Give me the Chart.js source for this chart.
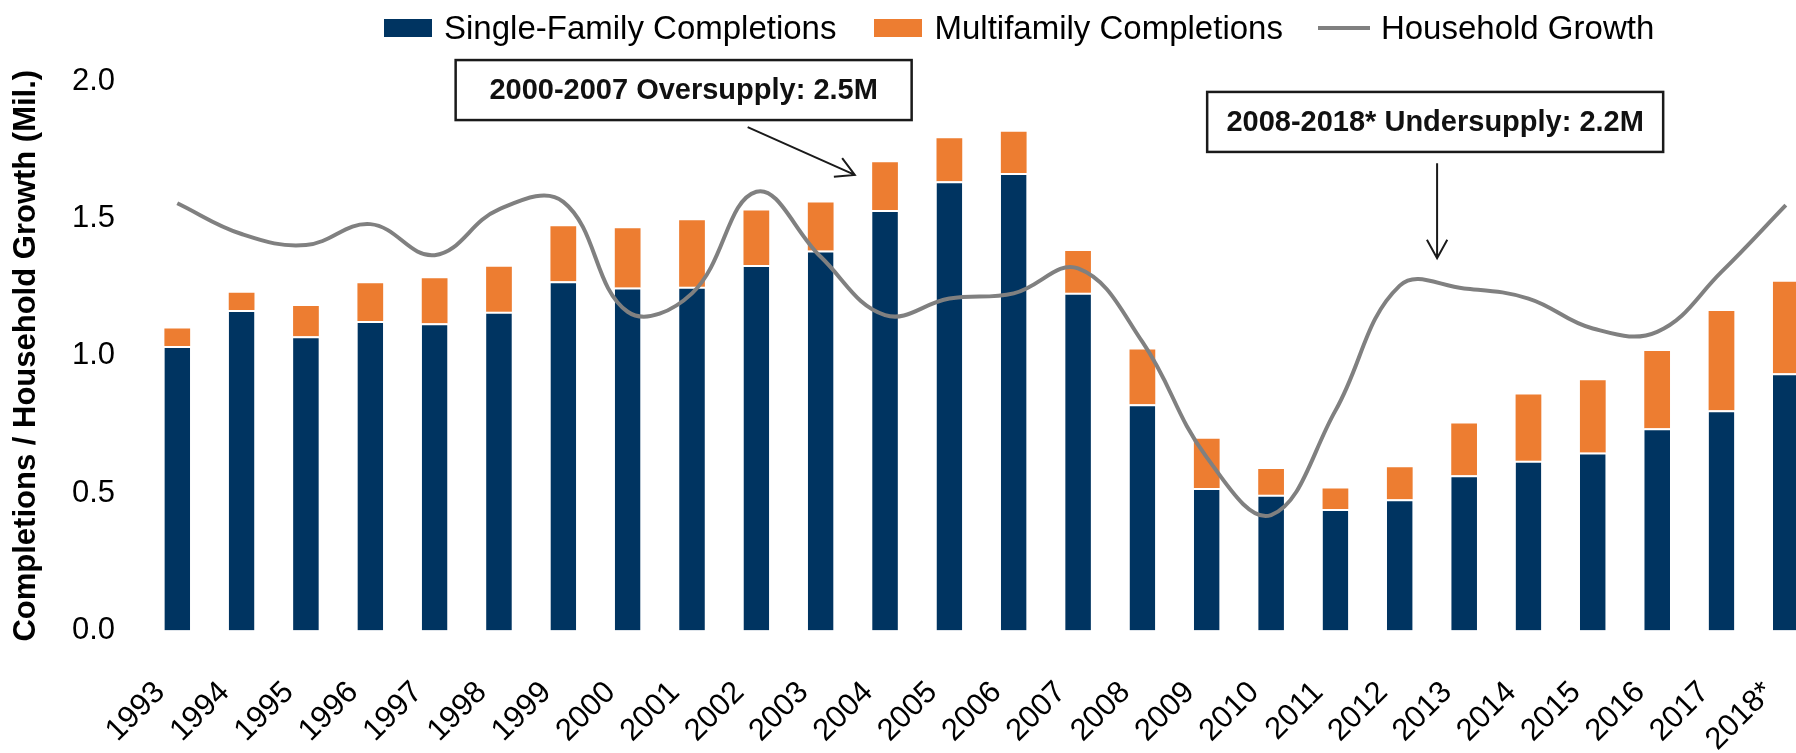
<!DOCTYPE html>
<html>
<head>
<meta charset="utf-8">
<title>Completions vs Household Growth</title>
<script src="https://cdn.jsdelivr.net/npm/chart.js@4.4.1/dist/chart.umd.min.js"></script>
<style>
  html, body { margin: 0; padding: 0; background: #fff; overflow: hidden; }
  #wrap { position: relative; width: 1796px; height: 753px; overflow: hidden; }
  #housingChart { position: absolute; left: 0; top: 0; }
  #legend {
    position: absolute; top: 9px; left: 384px;
    display: flex; align-items: center; white-space: nowrap;
    font: 33px "Liberation Sans", Arial, sans-serif; line-height: 37px; color: #000;
  }
  .legend-item { display: flex; align-items: center; }
  .legend-box { width: 48px; height: 18px; margin-right: 12px; }
  .legend-line { width: 52px; height: 4px; margin-right: 11px; }
</style>
</head>
<body>
<div id="wrap">
  <canvas id="housingChart" width="1818" height="802"></canvas>
  <div id="legend"></div>
</div>
<script>
// ---------------------
// DATA (millions)
// ---------------------
const years = [
  "1993", "1994", "1995", "1996", "1997", "1998", "1999", "2000", "2001",
  "2002", "2003", "2004", "2005", "2006", "2007", "2008", "2009", "2010",
  "2011", "2012", "2013", "2014", "2015", "2016", "2017", "2018*",
];
const singleFamily = [
  1.035, 1.166, 1.071, 1.126, 1.118, 1.160, 1.271, 1.248, 1.251,
  1.330, 1.383, 1.530, 1.635, 1.665, 1.229, 0.823, 0.518, 0.494,
  0.442, 0.477, 0.565, 0.618, 0.648, 0.736, 0.801, 0.936,
];
const multiFamily = [
  0.064, 0.063, 0.110, 0.138, 0.164, 0.164, 0.200, 0.216, 0.242,
  0.199, 0.175, 0.174, 0.157, 0.150, 0.152, 0.200, 0.180, 0.094,
  0.075, 0.117, 0.188, 0.241, 0.263, 0.281, 0.362, 0.333,
];
const householdGrowth = [
  1.555, 1.443, 1.403, 1.479, 1.366, 1.533, 1.560, 1.160, 1.227,
  1.597, 1.360, 1.148, 1.208, 1.227, 1.318, 1.050, 0.630, 0.420,
  0.800, 1.255, 1.245, 1.208, 1.099, 1.087, 1.305, 1.548,
];
const yTicks = [0, 0.5, 1.0, 1.5, 2.0];

const COLORS = {
  single: "#003461",
  multi: "#ED7D31",
  growth: "#808080",
};
const FONT = '"Liberation Sans", Arial, sans-serif';

// callout boxes, placed in data units (x = category index, y = value)
const callouts = [
  {
    text: "2000-2007 Oversupply: 2.5M",
    x: 7.87, y: 1.967,
    arrowFrom: [8.865, 1.832], arrowTo: [10.53, 1.658],
  },
  {
    text: "2008-2018* Undersupply: 2.2M",
    x: 19.55, y: 1.851,
    arrowFrom: [19.58, 1.701], arrowTo: [19.58, 1.355],
  },
];

// ---------------------
// LEGEND (html)
// ---------------------
function renderLegend() {
  const el = document.getElementById("legend");
  const items = [
    { label: "Single-Family Completions", cls: "legend-box", color: COLORS.single, gap: 38 },
    { label: "Multifamily Completions", cls: "legend-box", color: COLORS.multi, gap: 35 },
    { label: "Household Growth", cls: "legend-line", color: COLORS.growth, gap: 0 },
  ];
  items.forEach((it) => {
    const item = document.createElement("div");
    item.className = "legend-item";
    item.style.marginRight = it.gap + "px";
    const mark = document.createElement("span");
    mark.className = it.cls;
    mark.style.background = it.color;
    const txt = document.createElement("span");
    txt.textContent = it.label;
    item.appendChild(mark);
    item.appendChild(txt);
    el.appendChild(item);
  });
}

// ---------------------
// CALLOUT PLUGIN: boxed labels + arrows
// ---------------------
function drawArrow(ctx, x1, y1, x2, y2) {
  const ang = Math.atan2(y2 - y1, x2 - x1);
  const len = 21;
  const spread = (29 * Math.PI) / 180;
  ctx.beginPath();
  ctx.moveTo(x1, y1);
  ctx.lineTo(x2, y2);
  ctx.moveTo(x2 - len * Math.cos(ang - spread), y2 - len * Math.sin(ang - spread));
  ctx.lineTo(x2, y2);
  ctx.lineTo(x2 - len * Math.cos(ang + spread), y2 - len * Math.sin(ang + spread));
  ctx.stroke();
}

const calloutPlugin = {
  id: "callouts",
  afterDatasetsDraw(chart) {
    const { ctx } = chart;
    const xs = chart.scales.x;
    const ys = chart.scales.y;
    const w = 456;
    const h = 60;
    ctx.save();
    callouts.forEach((c) => {
      const cx = xs.getPixelForValue(c.x);
      const cy = ys.getPixelForValue(c.y);
      ctx.fillStyle = "#fff";
      ctx.fillRect(cx - w / 2, cy - h / 2, w, h);
      ctx.strokeStyle = "#1a1a1a";
      ctx.lineWidth = 2.5;
      ctx.strokeRect(cx - w / 2, cy - h / 2, w, h);

      ctx.fillStyle = "#111";
      ctx.font = "bold 29px " + FONT;
      ctx.textAlign = "center";
      ctx.textBaseline = "middle";
      ctx.fillText(c.text, cx, cy + 1);

      ctx.lineWidth = 2;
      drawArrow(
        ctx,
        xs.getPixelForValue(c.arrowFrom[0]), ys.getPixelForValue(c.arrowFrom[1]),
        xs.getPixelForValue(c.arrowTo[0]), ys.getPixelForValue(c.arrowTo[1])
      );
    });
    ctx.restore();
  },
};

// ---------------------
// CHART
// ---------------------
function renderChart() {
  const canvas = document.getElementById("housingChart");

  new Chart(canvas, {
    type: "bar",
    data: {
      labels: years,
      datasets: [
        {
          type: "line",
          label: "Household Growth",
          data: householdGrowth,
          borderColor: COLORS.growth,
          borderWidth: 4,
          pointRadius: 0,
          tension: 0.4,
          stack: "growth",
          order: 0,
        },
        {
          label: "Single-Family Completions",
          data: singleFamily,
          backgroundColor: COLORS.single,
          borderColor: "#fff",
          borderWidth: { top: 2, right: 0, bottom: 0, left: 0 },
          barPercentage: 0.4,
          categoryPercentage: 1,
          stack: "units",
          order: 1,
        },
        {
          label: "Multifamily Completions",
          data: multiFamily,
          backgroundColor: COLORS.multi,
          borderWidth: 0,
          barPercentage: 0.4,
          categoryPercentage: 1,
          stack: "units",
          order: 2,
        },
      ],
    },
    options: {
      responsive: false,
      animation: false,
      layout: { padding: { top: 81, left: 0, right: 0, bottom: 0 } },
      plugins: {
        legend: { display: false },
        tooltip: { enabled: false },
      },
      scales: {
        x: {
          stacked: true,
          grid: { display: false, drawTicks: false },
          border: { display: false },
          // the last bar runs off the right edge in the original, so no extra room for labels
          afterFit: (scale) => {
            scale.paddingRight = 0;
            scale.paddingLeft = 0;
          },
          ticks: {
            color: "#000",
            font: { family: FONT, size: 31 },
            minRotation: 45,
            maxRotation: 45,
            autoSkip: false,
            padding: 44,
            labelOffset: -17,
          },
        },
        y: {
          stacked: true,
          min: 0,
          max: 2,
          grid: { display: false, drawTicks: false },
          border: { display: false },
          afterBuildTicks: (axis) => {
            axis.ticks = yTicks.map((v) => ({ value: v }));
          },
          ticks: {
            color: "#000",
            font: { family: FONT, size: 31 },
            padding: 30,
            callback: (v) => Number(v).toFixed(1),
          },
          title: {
            display: true,
            text: "Completions / Household Growth (Mil.)",
            color: "#000",
            font: { family: FONT, size: 31, weight: "bold", lineHeight: 1 },
            padding: { top: 11, bottom: 0 },
          },
        },
      },
    },
    plugins: [calloutPlugin],
  });
}

document.addEventListener("DOMContentLoaded", () => {
  renderLegend();
  renderChart();
});
</script>
</body>
</html>
